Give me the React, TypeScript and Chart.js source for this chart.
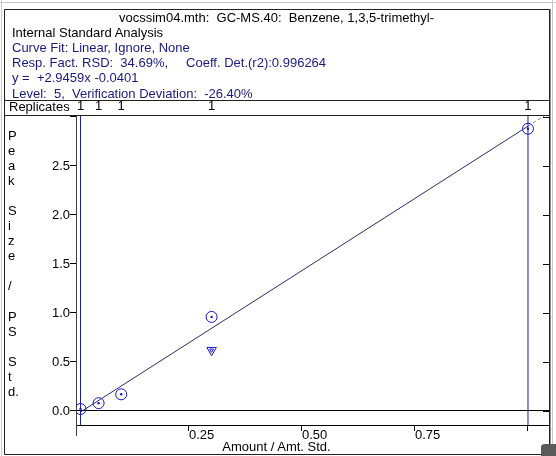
import React, { useEffect, useRef } from "react";
import { Chart, registerables } from "chart.js";

Chart.register(...registerables);

// ---- data ----
const amounts = [0.01, 0.05, 0.1, 0.3, 1.0];
const responses = [0.02, 0.08, 0.17, 0.96, 2.88];
const replicates = ["1", "1", "1", "1", "1"];
const verifAmounts = [0.3];
const verifResponses = [0.62];
const slope = 2.9459;
const intercept = -0.0401;
const extendTo = 1.04;

const xTicks = [0, 0.25, 0.5, 0.75, 1.0];
const xTickLabels = ["", "0.25", "0.50", "0.75", ""];
const yTicks = [0, 0.5, 1.0, 1.5, 2.0, 2.5, 3.0];
const yTickLabels = ["0.0", "0.5", "1.0", "1.5", "2.0", "2.5", ""];
const xMin = 0;
const xMax = 1.0465;
const yMin = -0.143;
const yMax = 3.02;

const titleLine = "vocssim04.mth:  GC-MS.40:  Benzene, 1,3,5-trimethyl-";
const infoLines = [
  "Internal Standard Analysis",
  "Curve Fit: Linear, Ignore, None",
  "Resp. Fact. RSD:  34.69%,     Coeff. Det.(r2):0.996264",
  "y =  +2.9459x -0.0401",
  "Level:  5,  Verification Deviation:  -26.40%",
];
const yTitleChars = ["P", "e", "a", "k", "\u00a0", "S", "i", "z", "e", "\u00a0", "/", "\u00a0", "P", "S", "\u00a0", "S", "t", "d."];
const xTitle = "Amount / Amt. Std.";
const replicatesLabel = "Replicates";

const FONT = '"Liberation Sans", Arial, sans-serif';
const NAVY = "#1a1a7e";
const MARK = "#1616c8";

const framePlugin = {
  id: "frame",
  afterDraw(chart: any) {
    const ctx = chart.ctx;
    const ca = chart.chartArea;
    const ys = chart.scales.y;
    ctx.save();
    ctx.lineWidth = 1;
    // outer window decoration
    ctx.strokeStyle = "#c8c8c8";
    ctx.beginPath();
    ctx.moveTo(0, 2.5); ctx.lineTo(556, 2.5);
    ctx.moveTo(1.5, 0); ctx.lineTo(1.5, 456);
    ctx.moveTo(552.5, 0); ctx.lineTo(552.5, 456);
    ctx.stroke();
    ctx.strokeStyle = "#909090";
    ctx.beginPath();
    ctx.moveTo(550.5, 9); ctx.lineTo(550.5, 456);
    ctx.stroke();
    // frame
    ctx.strokeStyle = "#202020";
    ctx.beginPath();
    ctx.rect(4.5, 9.5, 545, 445);
    ctx.moveTo(4.5, 100.5); ctx.lineTo(549.5, 100.5);
    ctx.moveTo(4.5, Math.round(ca.top) + 0.5); ctx.lineTo(549.5, Math.round(ca.top) + 0.5);
    ctx.stroke();
    // left axis runs a little below the x axis
    ctx.strokeStyle = "#404040";
    ctx.beginPath();
    ctx.moveTo(Math.round(ca.left) + 0.5, ca.bottom);
    ctx.lineTo(Math.round(ca.left) + 0.5, ca.bottom + 11);
    ctx.stroke();
    // inner ticks on right edge
    ctx.strokeStyle = "#000";
    ctx.beginPath();
    yTicks.forEach((v) => {
      const p = Math.round(ys.getPixelForValue(v)) + 0.5;
      ctx.moveTo(ca.right - 6, p);
      ctx.lineTo(ca.right, p);
    });
    ctx.stroke();
    // corner block
    ctx.fillStyle = "#5a5a5a";
    ctx.beginPath();
    ctx.moveTo(541, 456); ctx.lineTo(541, 447); ctx.quadraticCurveTo(541, 444, 545, 444);
    ctx.lineTo(556, 444); ctx.lineTo(556, 456); ctx.closePath();
    ctx.fill();
    ctx.restore();
  },
};

export default function App() {
  const canvasRef = useRef<HTMLCanvasElement | null>(null);

  useEffect(() => {
    if (!canvasRef.current) return;
    const pts = amounts.map((x, i) => ({ x, y: responses[i] }));
    const vpts = verifAmounts.map((x, i) => ({ x, y: verifResponses[i] }));
    const first = amounts[0];
    const last = amounts[amounts.length - 1];
    const fitSolid = [first, last].map((x) => ({ x, y: slope * x + intercept }));
    const fitDash = [last, extendTo].map((x) => ({ x, y: slope * x + intercept }));

    const chart = new Chart(canvasRef.current, {
      type: "scatter",
      data: {
        datasets: [
          { data: pts, pointStyle: "circle", pointRadius: 5.5, borderWidth: 1, borderColor: MARK, backgroundColor: "transparent", showLine: false, xAxisID: "x", yAxisID: "y" } as any,
          { data: pts, pointStyle: "circle", pointRadius: 1.2, borderWidth: 0, backgroundColor: MARK, borderColor: MARK, showLine: false },
          { data: vpts, pointStyle: "triangle", rotation: 180, pointRadius: 5.5, borderWidth: 1, borderColor: MARK, backgroundColor: "transparent", showLine: false },
          { data: vpts, pointStyle: "triangle", rotation: 180, pointRadius: 2.2, borderWidth: 1, borderColor: MARK, backgroundColor: "transparent", showLine: false },
          { data: fitSolid, showLine: true, pointRadius: 0, borderWidth: 1, borderColor: "#2a2a6e" },
          { data: fitDash, showLine: true, pointRadius: 0, borderWidth: 1, borderColor: "#6a6a9a", borderDash: [3, 3] },
          { data: [{ x: first, y: yMin }, { x: first, y: yMax }], showLine: true, pointRadius: 0, borderWidth: 1, borderColor: "#1c1ca0" },
          { data: [{ x: last, y: yMin }, { x: last, y: yMax }], showLine: true, pointRadius: 0, borderWidth: 1, borderColor: "#1c1ca0" },
        ],
      },
      options: {
        responsive: false,
        animation: false,
        devicePixelRatio: 1,
        events: [],
        layout: { padding: { top: 100, right: 7, bottom: 0, left: 0 } },
        plugins: { legend: { display: false }, tooltip: { enabled: false }, title: { display: false } },
        scales: {
          x: {
            type: "linear",
            position: "bottom",
            min: xMin,
            max: xMax,
            afterFit: (s: any) => { s.height = 31; },
            afterBuildTicks: (s: any) => { s.ticks = xTicks.map((v) => ({ value: v })); },
            grid: { display: true, drawOnChartArea: false, drawTicks: true, tickLength: 6, tickColor: "#000", color: "#000" },
            border: { display: true, color: "#000", width: 1 },
            ticks: {
              autoSkip: false,
              maxRotation: 0,
              align: "start",
              padding: -2,
              color: "#000",
              font: { family: FONT, size: 13, lineHeight: 1 },
              callback: (_v: any, i: number) => xTickLabels[i],
            },
          },
          x2: {
            type: "linear",
            position: "top",
            min: xMin,
            max: xMax,
            afterFit: (s: any) => { s.height = 15; },
            afterBuildTicks: (s: any) => { s.ticks = amounts.map((v) => ({ value: v })); },
            grid: { display: false, drawTicks: false },
            border: { display: false },
            ticks: {
              autoSkip: false,
              maxRotation: 0,
              padding: 1,
              color: "#000",
              font: { family: FONT, size: 13 },
              callback: (_v: any, i: number) => replicates[i],
            },
          },
          y: {
            type: "linear",
            position: "left",
            min: yMin,
            max: yMax,
            afterFit: (s: any) => { s.width = 76; },
            afterBuildTicks: (s: any) => { s.ticks = yTicks.map((v) => ({ value: v })); },
            grid: {
              display: true,
              drawOnChartArea: true,
              drawTicks: true,
              tickLength: 6,
              tickColor: "#000",
              color: (c: any) => (c.tick && c.tick.value === 0 ? "#000" : "rgba(0,0,0,0)"),
            },
            border: { display: true, color: "#404040", width: 1 },
            ticks: {
              autoSkip: false,
              padding: 0,
              color: "#000",
              font: { family: FONT, size: 13 },
              callback: (_v: any, i: number) => yTickLabels[i],
            },
          },
        },
      } as any,
      plugins: [framePlugin],
    });
    return () => chart.destroy();
  }, []);

  const textStyle: React.CSSProperties = {
    position: "absolute",
    font: `13px ${FONT}`,
    lineHeight: "15px",
    whiteSpace: "pre",
    margin: 0,
  };

  return (
    <div style={{ position: "fixed", left: 0, top: 0, width: 556, height: 456, background: "#fff", overflow: "hidden" }}>
      <canvas ref={canvasRef} width={556} height={456} style={{ position: "absolute", left: 0, top: 0, width: 556, height: 456 }} />
      <div style={{ ...textStyle, left: 4, width: 545, top: 9.5, textAlign: "center", color: "#000" }}>{titleLine}</div>
      {infoLines.map((t, i) => (
        <div key={i} style={{ ...textStyle, left: 12, top: 24.7 + i * 15.2, color: i === 0 ? "#000" : NAVY }}>{t}</div>
      ))}
      <div style={{ ...textStyle, left: 9, top: 98.5, color: "#000" }}>{replicatesLabel}</div>
      <div style={{ ...textStyle, left: 8, top: 127.5, lineHeight: "15.1px", color: "#000" }}>{yTitleChars.join("\n")}</div>
      <div style={{ ...textStyle, left: 4, width: 545, top: 439, textAlign: "center", color: "#000" }}>{xTitle}</div>
    </div>
  );
}
